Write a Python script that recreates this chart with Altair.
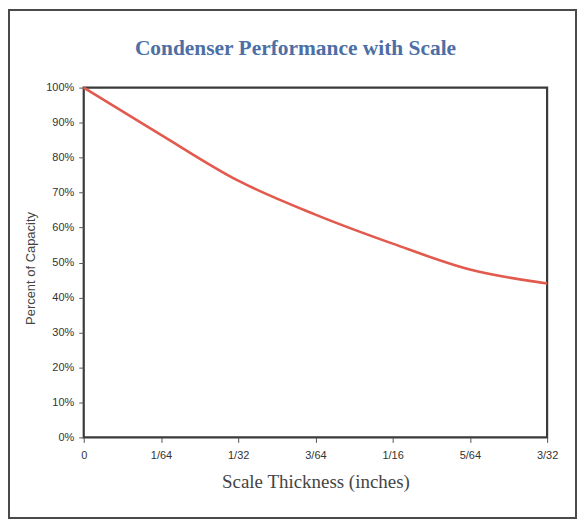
import altair as alt
import pandas as pd

# Data
thickness_64ths = [0, 1, 2, 3, 4, 5, 6]          # scale thickness in 1/64 inch
capacity_pct = [100, 86.5, 73.4, 63.7, 55.4, 48.0, 44.0]
x_tick_labels = ["0", "1/64", "1/32", "3/64", "1/16", "5/64", "3/32"]
y_ticks = [0, 10, 20, 30, 40, 50, 60, 70, 80, 90, 100]
chart_title = "Condenser Performance with Scale"

df = pd.DataFrame({"t": thickness_64ths, "cap": capacity_pct})

W, H = 465, 351

label_arr = "[" + ",".join("'" + s + "'" for s in x_tick_labels) + "]"

line = alt.Chart(df).mark_line(
    interpolate="monotone", color="#e25a4e", strokeWidth=2.6
).encode(
    x=alt.X(
        "t:Q",
        scale=alt.Scale(domain=[0, 6], nice=False, zero=False),
        axis=alt.Axis(
            values=thickness_64ths,
            labelExpr=label_arr + "[datum.value]",
            title="Scale Thickness (inches)",
            titleFont="Liberation Serif",
            titleFontSize=19,
            titleFontWeight="normal",
            titleColor="#444444",
            titleBaseline="alphabetic",
            titleY=50,
            labelFont="Liberation Sans",
            labelFontSize=11,
            labelColor="#333333",
            labelPadding=7,
            tickSize=5,
            tickColor="#555555",
            domain=False,
            grid=False,
            labelFlush=False,
        ),
    ),
    y=alt.Y(
        "cap:Q",
        scale=alt.Scale(domain=[0, 100], nice=False),
        axis=alt.Axis(
            values=y_ticks,
            labelExpr="datum.value + '%'",
            title="Percent of Capacity",
            titleFont="Liberation Sans",
            titleFontSize=13,
            titleFontWeight="normal",
            titleColor="#444444",
            titleBaseline="alphabetic",
            titleX=-49,
            titleY=181,
            labelFont="Liberation Sans",
            labelFontSize=11,
            labelColor="#333333",
            labelPadding=5,
            tickSize=5,
            tickColor="#555555",
            domain=False,
            grid=False,
        ),
    ),
)

# outer frame around the whole figure (decoration)
frame = alt.Chart(df).mark_rect(
    fill=None, stroke="#4a4a4a", strokeWidth=2, clip=False
).encode(
    x=alt.value(-75), x2=alt.value(W + 29),
    y=alt.value(-78), y2=alt.value(H + 81),
)

# chart title as a text mark (placed above the plot area)
title = alt.Chart(pd.DataFrame({"label": [chart_title]})).mark_text(
    font="Liberation Serif",
    fontSize=21.5,
    fontWeight="bold",
    color="#4d6fa5",
    align="center",
    baseline="alphabetic",
    clip=False,
).encode(
    text="label:N",
    x=alt.value(W / 2 - 20),
    y=alt.value(-33),
)

chart = alt.layer(frame, line, title).properties(
    width=W,
    height=H,
    background="white",
    autosize=alt.AutoSizeParams(type="none"),
    padding={"left": 76, "top": 79, "right": 30, "bottom": 83},
).configure_view(
    stroke="#3a3a3a", strokeWidth=2.2
)

chart.save("out.html", embed_options={"renderer": "svg", "actions": False})
